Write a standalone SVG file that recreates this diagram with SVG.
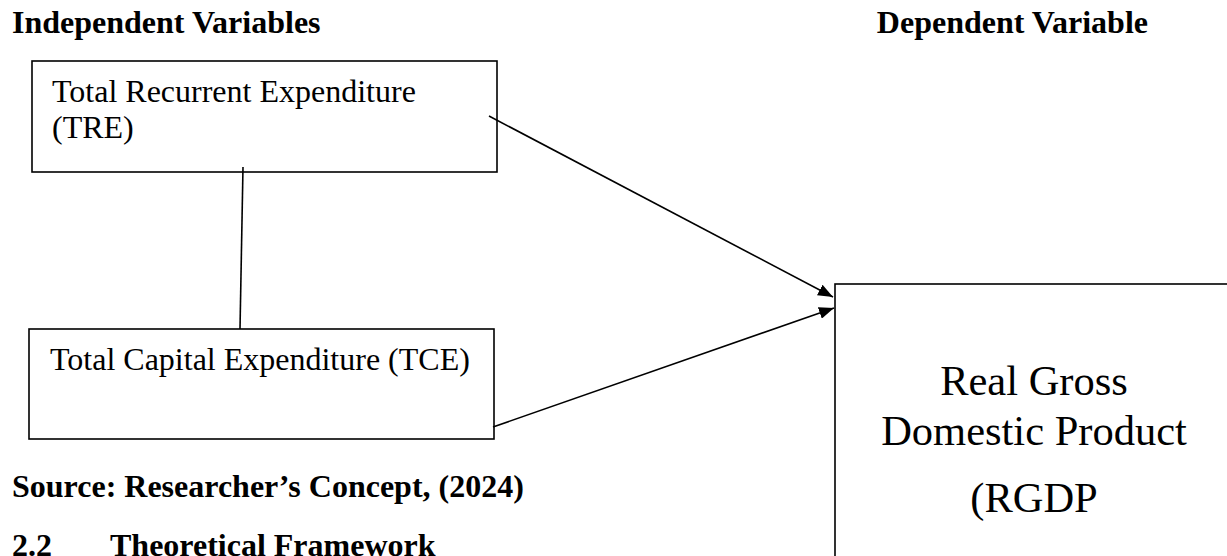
<svg xmlns="http://www.w3.org/2000/svg" width="1227" height="556" viewBox="0 0 1227 556">
  <style>
    .bg { fill: #ffffff; }
    .box { fill: #ffffff; stroke: #000000; stroke-width: 1.6; }
    .head { font-family: "Liberation Serif", "Times New Roman", serif; font-weight: bold; font-size: 32px; fill: #000000; }
    .body { font-family: "Liberation Serif", "Times New Roman", serif; font-size: 32px; fill: #000000; }
    .big { font-family: "Liberation Serif", "Times New Roman", serif; font-size: 42.5px; fill: #000000; text-anchor: middle; }
    .conn { stroke: #000000; stroke-width: 1.6; fill: none; }
  </style>
  <defs>
    <marker id="arrow" markerUnits="userSpaceOnUse" markerWidth="16" markerHeight="12" refX="15" refY="6" orient="auto">
      <path d="M0,0 L15,6 L0,12 Z" fill="#000000"/>
    </marker>
  </defs>
  <rect class="bg" x="0" y="0" width="1227" height="556"/>

  <g id="labels">
    <text class="head" x="12" y="33">Independent Variables</text>
    <text class="head" x="1148" y="33" text-anchor="end">Dependent Variable</text>
    <text class="head" x="12" y="497">Source: Researcher’s Concept, (2024)</text>
    <text class="head" x="12" y="556">2.2</text>
    <text class="head" x="110" y="556">Theoretical Framework</text>
  </g>

  <g id="node-tre">
    <rect class="box" x="32" y="61" width="465" height="111"/>
    <text class="body" x="52" y="102">Total Recurrent Expenditure</text>
    <text class="body" x="52" y="138">(TRE)</text>
  </g>

  <g id="node-tce">
    <rect class="box" x="29" y="329" width="465" height="110"/>
    <text class="body" x="50" y="370">Total Capital Expenditure (TCE)</text>
  </g>

  <g id="node-rgdp">
    <rect class="box" x="835" y="284" width="420" height="300"/>
    <text class="big" x="1034" y="395">Real Gross</text>
    <text class="big" x="1034" y="445">Domestic Product</text>
    <text class="big" x="1034" y="512">(RGDP</text>
  </g>

  <g id="connectors">
    <line class="conn" x1="243" y1="167" x2="240" y2="329"/>
    <line class="conn" x1="489" y1="116" x2="833" y2="297" marker-end="url(#arrow)"/>
    <line class="conn" x1="493" y1="427" x2="834" y2="308" marker-end="url(#arrow)"/>
  </g>
</svg>
